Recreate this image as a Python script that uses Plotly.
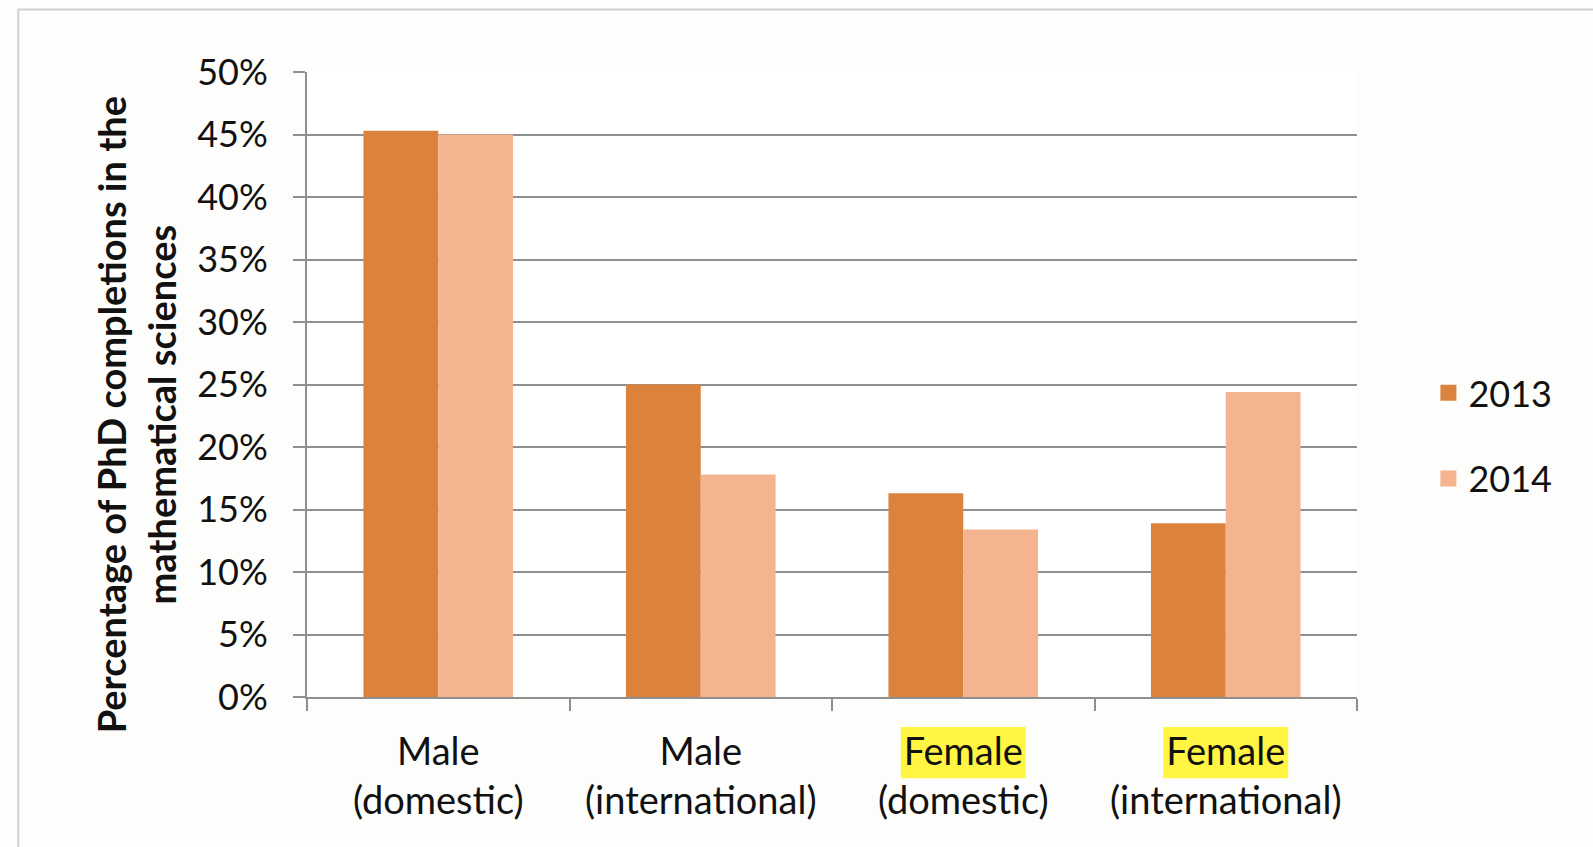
import plotly.graph_objects as go

categories = ["Male<br>(domestic)", "Male<br>(international)", "Female<br>(domestic)", "Female<br>(international)"]
series_2013 = [45.3, 25.0, 16.3, 13.9]
series_2014 = [45.0, 17.8, 13.4, 24.4]
tick_vals = [0, 5, 10, 15, 20, 25, 30, 35, 40, 45, 50]
tick_text = [f"{v}%" for v in tick_vals]
highlight_idx = [2, 3]
colors = {"2013": "#DB833D", "2014": "#F3B48F"}
y_title = "<b>Percentage of PhD completions in the<br>mathematical sciences</b>"

FONT = "Lato, Carlito, Calibri, sans-serif"
GRID = "#8f8f8f"

fig = go.Figure()
fig.add_trace(go.Bar(name="2013", x=categories, y=series_2013, showlegend=False,
                     marker=dict(color=colors["2013"], line=dict(width=0))))
fig.add_trace(go.Bar(name="2014", x=categories, y=series_2014, showlegend=False,
                     marker=dict(color=colors["2014"], line=dict(width=0))))
# legend entries with larger square swatches
for name in ["2013", "2014"]:
    fig.add_trace(go.Scatter(name=name, x=[None], y=[None], mode="markers", legendgroup=name,
                             marker=dict(symbol="square", size=22, color=colors[name])))

shapes = [
    dict(type="rect", xref="paper", yref="paper", x0=-0.275, x1=1.5, y0=-0.5, y1=1.1,
         line=dict(color="#cfcfcf", width=2), fillcolor="rgba(0,0,0,0)", layer="below"),
]
for i in highlight_idx:
    shapes.append(dict(type="rect", xref="x", yref="paper", x0=i - 0.238, x1=i + 0.238,
                       y0=-0.13, y1=-0.048, fillcolor="#FFF542", line=dict(width=0), layer="below"))

fig.add_annotation(text=y_title, xref="paper", yref="paper", x=-0.163, y=0.452,
                   xanchor="center", yanchor="middle", textangle=-90, showarrow=False,
                   font=dict(size=38, family=FONT, color="#111111"))

fig.update_layout(
    width=1593, height=847,
    margin=dict(l=307, r=236, t=72, b=150),
    paper_bgcolor="#FDFDFB", plot_bgcolor="#FFFFFF",
    barmode="group", bargap=0.43, bargroupgap=0,
    font=dict(family=FONT, size=35, color="#111111"),
    shapes=shapes,
    legend=dict(x=1.068, y=0.418, xanchor="left", yanchor="middle",
                font=dict(size=36), bgcolor="rgba(0,0,0,0)",
                traceorder="grouped", tracegroupgap=36, itemwidth=30),
    xaxis=dict(
        showgrid=False, showline=True, linecolor=GRID, linewidth=2,
        ticks="outside", tickson="boundaries", ticklen=12, tickcolor=GRID, tickwidth=2,
        tickfont=dict(size=38), ticklabelstandoff=20,
    ),
    yaxis=dict(
        range=[0, 50], tickvals=tick_vals, ticktext=tick_text,
        showgrid=True, gridcolor=GRID, gridwidth=2,
        showline=True, linecolor=GRID, linewidth=2,
        ticks="outside", ticklen=12, tickcolor=GRID, tickwidth=2,
        ticklabelstandoff=18, zeroline=False,
        tickfont=dict(size=36),
    ),
)

fig.write_html("out.html")
